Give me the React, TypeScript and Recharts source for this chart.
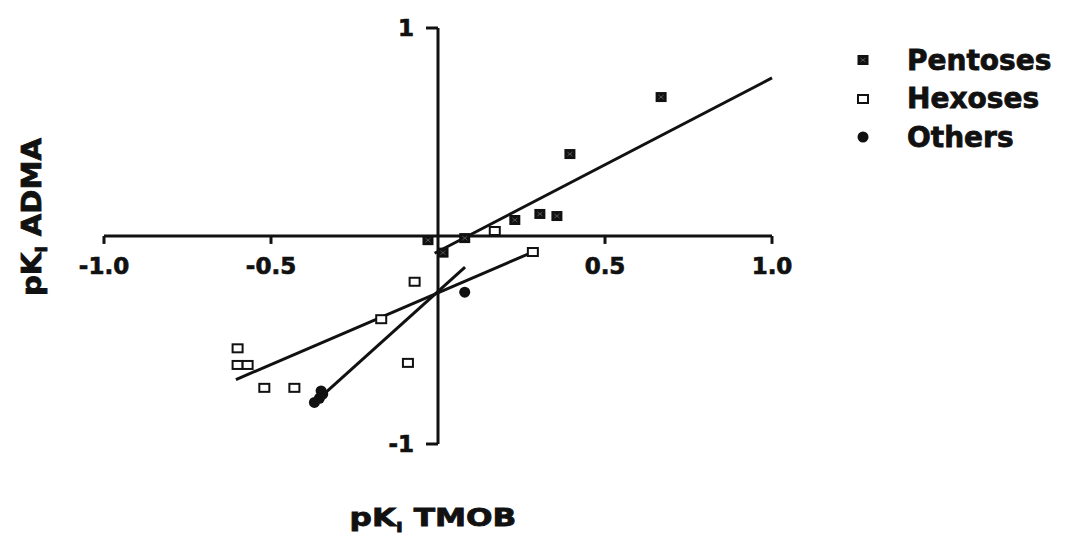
import { ScatterChart, Scatter, XAxis, YAxis, ReferenceLine, Legend } from 'recharts';

// points (pK TMOB on x, pK ADMA on y)
const pentoses = [
  { x: 0.668, y: 0.668 },
  { x: 0.395, y: 0.394 },
  { x: 0.23, y: 0.077 },
  { x: 0.305, y: 0.106 },
  { x: 0.356, y: 0.096 },
  { x: 0.08, y: -0.01 },
  { x: -0.03, y: -0.02 },
  { x: 0.015, y: -0.08 },
];

const hexoses = [
  { x: 0.17, y: 0.024 },
  { x: 0.284, y: -0.077 },
  { x: -0.07, y: -0.22 },
  { x: -0.17, y: -0.4 },
  { x: -0.6, y: -0.54 },
  { x: -0.6, y: -0.62 },
  { x: -0.57, y: -0.62 },
  { x: -0.52, y: -0.73 },
  { x: -0.43, y: -0.73 },
  { x: -0.09, y: -0.61 },
];

const others = [
  { x: 0.08, y: -0.27 },
  { x: -0.37, y: -0.8 },
  { x: -0.355, y: -0.78 },
  { x: -0.345, y: -0.76 },
  { x: -0.35, y: -0.745 },
];

// regression lines, end points
const pentoseFit = [
  { x: -0.01, y: -0.083 },
  { x: 1.0, y: 0.76 },
];
const hexoseFit = [
  { x: -0.605, y: -0.69 },
  { x: 0.284, y: -0.077 },
];
const othersFit = [
  { x: -0.355, y: -0.78 },
  { x: 0.081, y: -0.15 },
];

const legendOrder = ['Pentoses', 'Hexoses', 'Others'];
const xTicks = [-1, -0.5, 0.5, 1];
const xTickLabels = ['-1.0', '-0.5', '0.5', '1.0'];
const yTicks = [1, -1];
const yTickLabels = ['1', '-1'];

const FONT = '"DejaVu Sans", sans-serif';
const INK = '#111';
const X_TICK_LEN = 0.038;
const Y_TICK_LEN = 0.036;

const PentoseMark = ({ cx, cy }: any) => (
  <g>
    <rect x={cx - 5.5} y={cy - 5} width={11} height={10} fill={INK} />
    <path
      d={`M${cx - 2.5} ${cy - 2}L${cx + 2.5} ${cy + 2}M${cx + 2.5} ${cy - 2}L${cx - 2.5} ${cy + 2}`}
      stroke="#666"
      strokeWidth={0.8}
    />
  </g>
);

const HexoseMark = ({ cx, cy }: any) => (
  <rect x={cx - 5} y={cy - 4} width={10} height={8} fill="#fff" stroke={INK} strokeWidth={2} />
);

const OtherMark = ({ cx, cy }: any) => <circle cx={cx} cy={cy} r={5.5} fill={INK} />;

const NoMark = () => <g />;

const legendIcons: Record<string, any> = {
  Pentoses: PentoseMark,
  Hexoses: HexoseMark,
  Others: OtherMark,
};

function renderLegend(props: any) {
  const names = (props.payload || []).map((p: any) => p.value);
  const items = legendOrder.filter((n) => names.includes(n));
  return (
    <div>
      {items.map((name) => {
        const Icon = legendIcons[name];
        return (
          <div key={name} style={{ display: 'flex', alignItems: 'center', height: 38.5 }}>
            <svg width={40} height={20}>
              <Icon cx={10} cy={10} />
            </svg>
            <span
              style={{
                fontFamily: FONT,
                fontWeight: 700,
                fontSize: 28,
                color: INK,
                marginLeft: 14,
                WebkitTextStroke: '0.8px #111',
              }}
            >
              {name}
            </span>
          </div>
        );
      })}
    </div>
  );
}

const tickLabel = (value: string, position: string) => ({
  value,
  position,
  offset: position === 'bottom' ? 14 : 12,
  fill: INK,
  stroke: INK,
  strokeWidth: 0.7,
  fontSize: 23,
  fontWeight: 700,
  fontFamily: FONT,
});

const titleStyle: any = {
  position: 'absolute',
  textAlign: 'center',
  fontFamily: FONT,
  fontWeight: 700,
  color: INK,
  WebkitTextStroke: '0.8px #111',
};

export default function App() {
  return (
    <div style={{ position: 'absolute', left: 0, top: 0, width: 1069, height: 540, background: '#fff' }}>
      <ScatterChart width={1069} height={540} margin={{ top: 28, right: 297, bottom: 96, left: 104 }}>
        <XAxis type="number" dataKey="x" domain={[-1, 1]} hide />
        <YAxis type="number" dataKey="y" domain={[-1, 1]} hide />

        <ReferenceLine segment={[{ x: -1, y: 0 }, { x: 1, y: 0 }]} stroke={INK} strokeWidth={3} />
        <ReferenceLine segment={[{ x: 0, y: -1 }, { x: 0, y: 1 }]} stroke={INK} strokeWidth={3} />
        {xTicks.map((t, i) => (
          <ReferenceLine
            key={`xt${t}`}
            segment={[{ x: t, y: 0 }, { x: t, y: -X_TICK_LEN }]}
            stroke={INK}
            strokeWidth={3}
            label={tickLabel(xTickLabels[i], 'bottom')}
          />
        ))}
        {yTicks.map((t, i) => (
          <ReferenceLine
            key={`yt${t}`}
            segment={[{ x: -Y_TICK_LEN, y: t }, { x: 0, y: t }]}
            stroke={INK}
            strokeWidth={3}
            label={tickLabel(yTickLabels[i], 'left')}
          />
        ))}

        <Scatter name="pentose fit" data={pentoseFit} line={{ stroke: INK, strokeWidth: 3 }} shape={NoMark} legendType="none" isAnimationActive={false} />
        <Scatter name="hexose fit" data={hexoseFit} line={{ stroke: INK, strokeWidth: 3 }} shape={NoMark} legendType="none" isAnimationActive={false} />
        <Scatter name="others fit" data={othersFit} line={{ stroke: INK, strokeWidth: 3 }} shape={NoMark} legendType="none" isAnimationActive={false} />

        <Scatter name="Pentoses" data={pentoses} shape={PentoseMark} isAnimationActive={false} />
        <Scatter name="Hexoses" data={hexoses} shape={HexoseMark} isAnimationActive={false} />
        <Scatter name="Others" data={others} shape={OtherMark} isAnimationActive={false} />

        <Legend
          layout="vertical"
          align="center"
          verticalAlign="middle"
          content={renderLegend}
          wrapperStyle={{ left: 853, top: 41, width: 216 }}
        />
      </ScatterChart>

      <div
        style={{
          ...titleStyle,
          left: 333,
          top: 506,
          width: 200,
          fontSize: 24,
          lineHeight: '24px',
          transform: 'scaleX(1.3)',
        }}
      >
        pK<span style={{ fontSize: 14, position: 'relative', top: 6 }}>I</span> TMOB
      </div>
      <div
        style={{
          ...titleStyle,
          left: -68,
          top: 204,
          width: 200,
          height: 26,
          fontSize: 26,
          lineHeight: '26px',
          transform: 'rotate(-90deg) scaleX(1.12)',
        }}
      >
        pK<span style={{ fontSize: 15, position: 'relative', top: 6 }}>I</span> ADMA
      </div>
    </div>
  );
}
